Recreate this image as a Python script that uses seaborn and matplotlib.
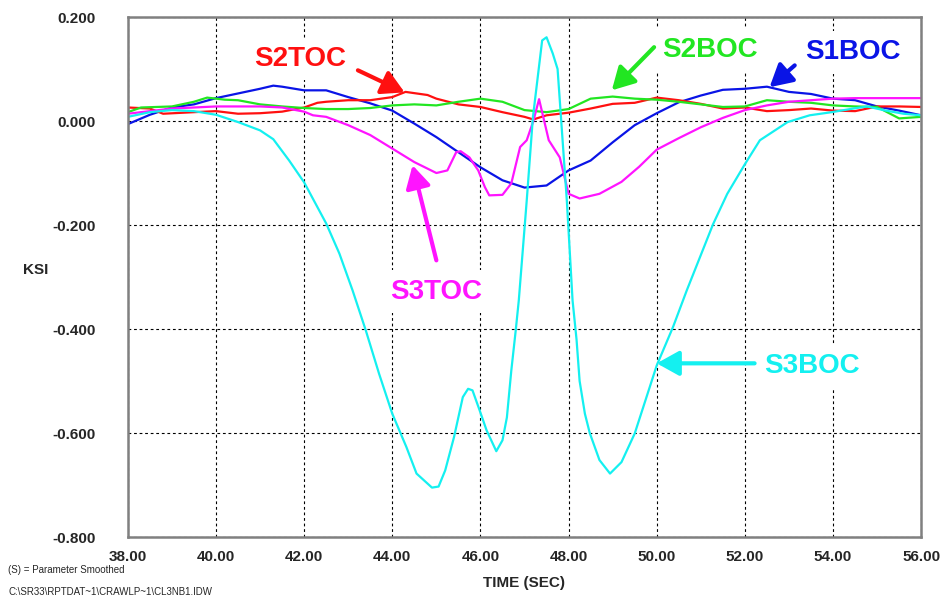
import seaborn as sns
import matplotlib.pyplot as plt

# S1BOC (blue)
t_s1boc = [38, 38.5, 39, 39.5, 40, 40.5, 41, 41.3, 41.5, 42, 42.5, 43, 43.5, 44, 44.5, 45, 45.5, 46,
           46.5, 47, 47.5, 48, 48.5, 49, 49.5, 50, 50.5, 51, 51.5, 52, 52.5, 53, 53.5, 54, 54.5, 55, 55.5, 56]
v_s1boc = [-0.006, 0.012, 0.026, 0.032, 0.044, 0.053, 0.062, 0.068, 0.066, 0.059, 0.059, 0.046, 0.034, 0.02,
           -0.005, -0.031, -0.06, -0.089, -0.114, -0.128, -0.124, -0.095, -0.076, -0.041, -0.008, 0.015,
           0.036, 0.049, 0.06, 0.062, 0.066, 0.056, 0.052, 0.043, 0.04, 0.028, 0.02, 0.011]

# S2TOC (red)
t_s2toc = [38, 38.5, 38.8, 39.5, 40, 40.5, 41, 41.5, 42, 42.3, 42.5, 43, 43.5, 44, 44.3, 44.8, 45, 45.5,
           46, 46.5, 47, 47.2, 47.5, 48, 48.5, 49, 49.5, 50, 50.5, 51, 51.5, 52, 52.5, 53, 53.5, 54, 54.5,
           55, 55.5, 56]
v_s2toc = [0.026, 0.024, 0.014, 0.017, 0.019, 0.014, 0.015, 0.018, 0.026, 0.035, 0.037, 0.04, 0.04, 0.046,
           0.056, 0.05, 0.043, 0.032, 0.027, 0.017, 0.008, 0.003, 0.011, 0.016, 0.024, 0.033, 0.035, 0.045,
           0.04, 0.033, 0.024, 0.026, 0.019, 0.021, 0.024, 0.02, 0.019, 0.028, 0.028, 0.027]

# S2BOC (green)
t_s2boc = [38, 38.3, 39, 39.5, 39.8, 40.2, 40.5, 41, 41.5, 42, 42.5, 43, 43.5, 44, 44.5, 45, 45.5, 46,
           46.5, 47, 47.5, 48, 48.5, 49, 49.5, 50, 50.5, 51, 51.5, 52, 52.5, 53, 53.5, 54, 54.5, 55, 55.5, 56]
v_s2boc = [0.017, 0.026, 0.028, 0.037, 0.045, 0.041, 0.04, 0.032, 0.028, 0.025, 0.023, 0.023, 0.025, 0.03,
           0.032, 0.03, 0.037, 0.043, 0.037, 0.021, 0.017, 0.023, 0.043, 0.047, 0.043, 0.041, 0.037, 0.032,
           0.027, 0.028, 0.04, 0.037, 0.035, 0.03, 0.028, 0.027, 0.005, 0.008]

# S3TOC (magenta)
t_s3toc = [38, 39, 40, 41, 41.5, 42, 42.2, 42.5, 43, 43.5, 44, 44.5, 45.0, 45.25, 45.45, 45.55, 45.75,
           45.95, 46.1, 46.2, 46.5, 46.7, 46.9, 47.05, 47.2, 47.33, 47.55, 47.8, 48.0, 48.25, 48.7, 49.2,
           49.6, 50, 50.5, 51, 51.5, 52, 52.5, 53, 53.5, 54, 54.5, 55, 56]
v_s3toc = [0.014, 0.024, 0.028, 0.028, 0.026, 0.018, 0.011, 0.008, -0.008, -0.027, -0.053, -0.079, -0.1,
           -0.095, -0.06, -0.058, -0.07, -0.095, -0.127, -0.143, -0.142, -0.12, -0.05, -0.037, 0.0, 0.042,
           -0.037, -0.07, -0.14, -0.149, -0.14, -0.117, -0.088, -0.055, -0.033, -0.012, 0.006, 0.021, 0.03,
           0.037, 0.04, 0.043, 0.044, 0.044, 0.044]

# S3BOC (cyan)
t_s3boc = [38, 38.5, 39, 39.5, 40, 40.5, 41.0, 41.3, 41.66, 42, 42.5, 42.8, 43.1, 43.4, 43.7, 44.0, 44.32,
           44.55, 44.9, 45.05, 45.2, 45.4, 45.6, 45.72, 45.82, 45.98, 46.14, 46.36, 46.5, 46.6, 46.7, 46.8,
           46.87, 47.05, 47.19, 47.4, 47.5, 47.64, 47.75, 47.96, 48.09, 48.18, 48.25, 48.37, 48.48, 48.7,
           48.94, 49.2, 49.5, 50.0, 50.37, 50.68, 50.98, 51.28, 51.6, 52.0, 52.34, 52.97, 53.47, 53.97,
           54.46, 54.77, 55.2, 55.6, 56]
v_s3boc = [0.008, 0.017, 0.021, 0.019, 0.012, -0.002, -0.018, -0.035, -0.076, -0.118, -0.197, -0.255,
           -0.326, -0.403, -0.486, -0.563, -0.627, -0.678, -0.705, -0.703, -0.672, -0.608, -0.531, -0.515,
           -0.518, -0.556, -0.595, -0.635, -0.614, -0.57, -0.48, -0.403, -0.345, -0.153, 0.007, 0.155, 0.161,
           0.13, 0.1, -0.153, -0.345, -0.42, -0.5, -0.563, -0.6, -0.652, -0.678, -0.656, -0.601, -0.47,
           -0.396, -0.326, -0.262, -0.198, -0.14, -0.083, -0.037, -0.002, 0.011, 0.017, 0.024, 0.028, 0.02,
           0.014, 0.011]

x_ticks = [38, 40, 42, 44, 46, 48, 50, 52, 54, 56]
y_ticks = [-0.8, -0.6, -0.4, -0.2, 0.0, 0.2]

sns.set_theme(style="white")
plt.rcParams['font.family'] = ['Liberation Sans', 'DejaVu Sans']

fig, ax = plt.subplots(figsize=(9.4, 5.97), dpi=100)
fig.subplots_adjust(left=0.136, right=0.98, top=0.9715, bottom=0.1005)

series = [
    (t_s1boc, v_s1boc, '#0a14e6'),
    (t_s2toc, v_s2toc, '#ff1010'),
    (t_s2boc, v_s2boc, '#22e622'),
    (t_s3toc, v_s3toc, '#ff14ff'),
    (t_s3boc, v_s3boc, '#14f0f0'),
]
for t, v, c in series:
    sns.lineplot(x=t, y=v, color=c, lw=1.6, ax=ax)

ax.set_xlim(38, 56)
ax.set_ylim(-0.8, 0.2)
ax.set_xticks(x_ticks)
ax.set_yticks(y_ticks)
ax.set_xticklabels([f'{x:.2f}' for x in x_ticks], fontsize=11, fontweight='bold')
ax.set_yticklabels([f'{y:.3f}' for y in y_ticks], fontsize=11, fontweight='bold')
ax.tick_params(axis='both', direction='out', length=7, width=1.2, color='#707070')
ax.tick_params(axis='y', pad=16)
ax.tick_params(axis='x', pad=2)
ax.grid(True, color='black', lw=0.8, linestyle=(0, (2.5, 2.5)))
for s in ax.spines.values():
    s.set_color('#808080')
    s.set_linewidth(1.8)
ax.set_xlabel('')
ax.set_ylabel('')

# annotations
labels = [
    ('S2TOC', (41.9, 0.119), (43.22, 0.0975), (44.28, 0.055), '#ff1010'),
    ('S2BOC', (51.2, 0.136), (49.94, 0.142), (48.98, 0.059), '#22e622'),
    ('S1BOC', (54.45, 0.132), (53.13, 0.107), (52.56, 0.065), '#0a14e6'),
    ('S3TOC', (44.99, -0.328), (45.0, -0.268), (44.46, -0.085), '#ff14ff'),
    ('S3BOC', (53.52, -0.472), (52.22, -0.466), (50.0, -0.466), '#14f0f0'),
]
for txt, pos, tail, head, c in labels:
    ax.text(pos[0], pos[1], txt, color=c, fontsize=20, fontweight='bold', ha='center', va='center',
            bbox=dict(facecolor='white', edgecolor='none', pad=6), zorder=5)
    ax.annotate('', xy=head, xytext=tail,
                arrowprops=dict(arrowstyle='-|>,head_length=0.9,head_width=0.5', color=c, lw=3,
                                shrinkA=0, shrinkB=0, mutation_scale=15), zorder=6)

fig.text(0.038, 0.548, 'KSI', fontsize=11, fontweight='bold', ha='center', va='center')
fig.text(0.557, 0.024, 'TIME (SEC)', fontsize=11, fontweight='bold', ha='center', va='center')
fig.text(0.009, 0.045, '(S) = Parameter Smoothed', fontsize=7, ha='left', va='center')
fig.text(0.009, 0.009, 'C:\\SR33\\RPTDAT~1\\CRAWLP~1\\CL3NB1.IDW', fontsize=7, ha='left', va='center')

plt.savefig('out.png', dpi=100)
